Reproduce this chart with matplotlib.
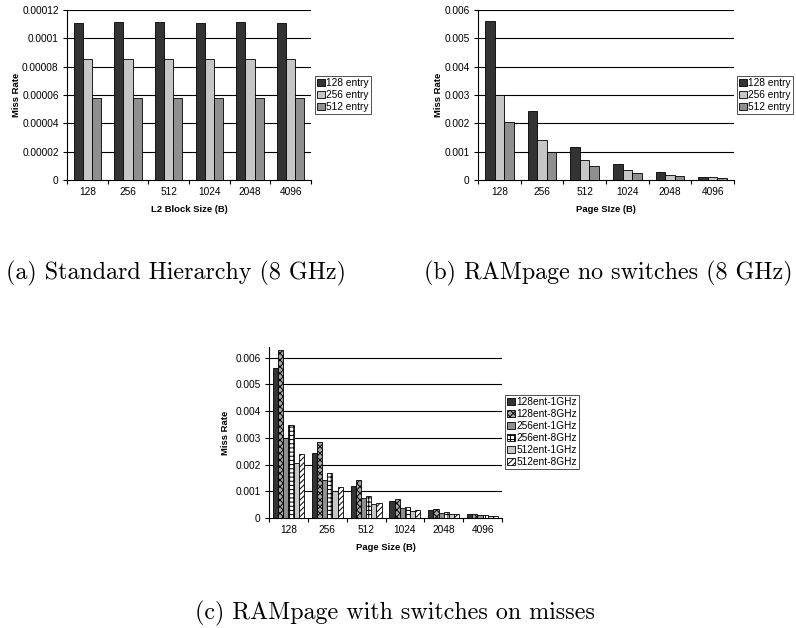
import numpy as np
import matplotlib
matplotlib.use('Agg')
import matplotlib.pyplot as plt

plt.rcParams['font.family'] = ['Liberation Sans', 'DejaVu Sans']
plt.rcParams['hatch.linewidth'] = 0.7

# 데이터
sizes = ['128', '256', '512', '1024', '2048', '4096']

# (a) Standard Hierarchy
std_128 = [0.000111, 0.0001115, 0.0001115, 0.000111, 0.0001115, 0.000111]
std_256 = [0.0000852, 0.0000857, 0.0000853, 0.0000851, 0.0000852, 0.0000852]
std_512 = [0.0000581, 0.0000582, 0.0000581, 0.0000581, 0.0000582, 0.0000581]

# (b) RAMpage no switches
rp_128 = [0.0056, 0.00242, 0.00115, 0.00057, 0.00027, 0.00012]
rp_256 = [0.0030, 0.00141, 0.00070, 0.00035, 0.00016, 0.00009]
rp_512 = [0.00206, 0.00100, 0.00051, 0.00026, 0.00013, 0.00006]

# (c) RAMpage with switches on misses
sw_128_1 = [0.0056, 0.00243, 0.00120, 0.00062, 0.00030, 0.00014]
sw_128_8 = [0.0063, 0.00285, 0.00141, 0.00070, 0.00034, 0.00016]
sw_256_1 = [0.0030, 0.00141, 0.00073, 0.00038, 0.00018, 0.00010]
sw_256_8 = [0.00347, 0.00168, 0.00084, 0.00043, 0.00021, 0.00011]
sw_512_1 = [0.00206, 0.00100, 0.00053, 0.00028, 0.00014, 0.00007]
sw_512_8 = [0.00240, 0.00117, 0.00058, 0.00029, 0.00014, 0.00006]

DARK, MID, LIGHT = '#333333', '#8f8f8f', '#c6c6c6'
FS = 7.3
LFS = 6.8


def fmt(v, pos=None):
    return np.format_float_positional(round(v, 9), trim='-')


def excel_bars(ax, series, styles, labels, ylim, ystep, xlabel, legend_xy, ylpad):
    n = len(series)
    width = 1.0 / (n + 1.5)
    x = np.arange(len(sizes))
    for i, (vals, st, lab) in enumerate(zip(series, styles, labels)):
        off = (i - (n - 1) / 2) * width
        ax.bar(x + 0.5 + off, vals, width, color=st[0], hatch=st[1],
               edgecolor='black', linewidth=0.6, label=lab, zorder=3)
    ax.set_xlim(0, len(sizes))
    ax.set_ylim(*ylim)
    yt = np.arange(0, ylim[1] + ystep * 0.01, ystep)
    ax.set_yticks(yt)
    ax.yaxis.set_major_formatter(plt.FuncFormatter(fmt))
    for y in yt[1:]:
        ax.axhline(y, color='black', lw=0.8, zorder=1)
    ax.set_xticks(np.arange(len(sizes) + 1))
    ax.set_xticklabels([])
    ax.set_xticks(x + 0.5, minor=True)
    ax.set_xticklabels(sizes, minor=True)
    ax.tick_params(axis='x', which='minor', length=0, labelsize=FS, pad=5)
    ax.tick_params(axis='x', which='major', length=3, width=0.8, direction='out')
    ax.tick_params(axis='y', length=3, width=0.8, labelsize=FS, pad=3)
    for s in ['top', 'right']:
        ax.spines[s].set_visible(False)
    for s in ['left', 'bottom']:
        ax.spines[s].set_linewidth(0.8)
    ax.set_ylabel('Miss Rate', fontsize=LFS, fontweight='bold', labelpad=ylpad)
    ax.set_xlabel(xlabel, fontsize=LFS, fontweight='bold', labelpad=6)
    leg = ax.legend(loc='upper left', bbox_to_anchor=legend_xy,
                    bbox_transform=ax.figure.transFigure, fontsize=FS,
                    frameon=True, fancybox=False, edgecolor='black',
                    handlelength=0.75, handleheight=0.75, handletextpad=0.15,
                    borderpad=0.2, labelspacing=0.2, borderaxespad=0)
    leg.get_frame().set_linewidth(0.6)


W, H = 796, 628
fig = plt.figure(figsize=(W / 100, H / 100), dpi=100)


def px_axes(l, t, r, b):
    return fig.add_axes([l / W, 1 - b / H, (r - l) / W, (b - t) / H])


ax_a = px_axes(67, 10, 311, 180)
excel_bars(ax_a, [std_128, std_256, std_512],
           [(DARK, None), (LIGHT, None), (MID, None)],
           ['128 entry', '256 entry', '512 entry'],
           (0, 0.00012), 0.00002, 'L2 Block Size (B)', (315 / W, 1 - 76 / H), 1)

ax_b = px_axes(478, 10, 734, 180)
excel_bars(ax_b, [rp_128, rp_256, rp_512],
           [(DARK, None), (LIGHT, None), (MID, None)],
           ['128 entry', '256 entry', '512 entry'],
           (0, 0.006), 0.001, 'Page SIze (B)', (737 / W, 1 - 76 / H), 1)

ax_c = px_axes(269, 347, 502, 518)
excel_bars(ax_c, [sw_128_1, sw_128_8, sw_256_1, sw_256_8, sw_512_1, sw_512_8],
           [(DARK, None), ('#a8a8a8', 'xxxxx'), (MID, None),
            ('white', '++++'), (LIGHT, None), ('white', '//////')],
           ['128ent-1GHz', '128ent-8GHz', '256ent-1GHz',
            '256ent-8GHz', '512ent-1GHz', '512ent-8GHz'],
           (0, 0.0064), 0.001, 'Page Size (B)', (505 / W, 1 - 395 / H), 4)
# 0.006 위쪽 여백은 격자선 없음
ax_c.set_yticks(np.arange(0, 0.0061, 0.001))

cap = dict(family='cmr10', fontsize=17.3, ha='center', va='baseline')
fig.text(176 / W, 1 - 279 / H, '(a) Standard Hierarchy (8 GHz)', **cap)
fig.text(608 / W, 1 - 279 / H, '(b) RAMpage no switches (8 GHz)', **cap)
fig.text(395 / W, 1 - 619 / H, '(c) RAMpage with switches on misses', **cap)

fig.savefig('out.png', dpi=100)
